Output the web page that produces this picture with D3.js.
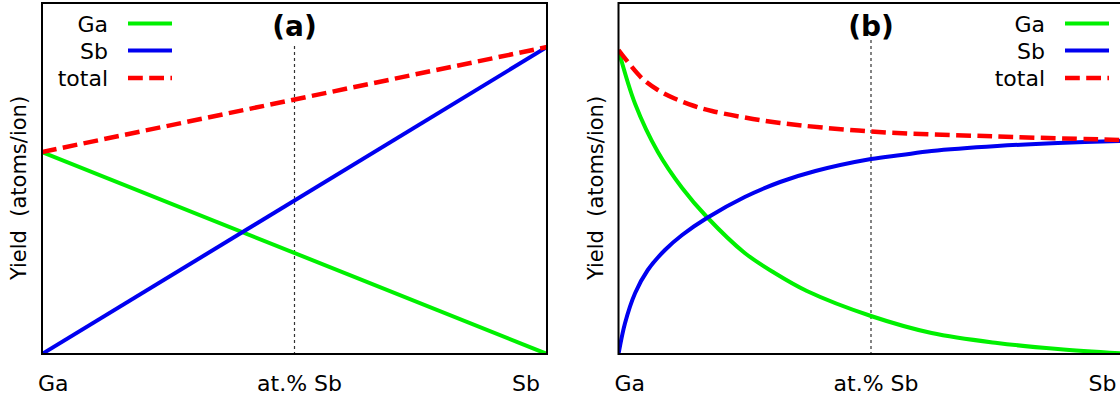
<!DOCTYPE html>
<html>
<head>
<meta charset="utf-8">
<script src="https://cdn.jsdelivr.net/npm/d3@7"></script>
<style>
  body { margin: 0; background: #fff; }
  text { font-family: "DejaVu Sans", sans-serif; fill: #000; }
</style>
</head>
<body>
<script>
// ---- data (yield in arbitrary units, composition in at.% Sb) ----
var seriesNames = ["Ga", "Sb", "total"];
var colors = ["#00f000", "#0000f0", "#ff0000"];

// panel (a): linear
var aComp = [0, 100];
var aGa = [2.02, 0];
var aSb = [0, 3.07];
var aTotal = [2.02, 3.07];

// panel (b): curved
var bGaComp = [0, 3.3, 7.8, 12.6, 17.5, 25, 30.6, 37.3, 50, 62, 75, 87, 100];
var bGa = [3.04, 2.50, 2.02, 1.66, 1.37, 1.01, 0.82, 0.63, 0.38, 0.21, 0.11, 0.05, 0.005];
var bSbComp = [0, 1.3, 3.3, 5.8, 9.2, 12.6, 17.5, 25, 32, 39, 50, 56, 62, 75, 87, 100];
var bSb = [0, 0.31, 0.61, 0.84, 1.04, 1.19, 1.36, 1.57, 1.72, 1.83, 1.95, 1.99, 2.03, 2.08, 2.11, 2.13];
var bTotComp = [0, 4.6, 7.8, 11.1, 15, 18.5, 24.4, 32, 50, 75, 100];
var bTotal = [3.04, 2.76, 2.64, 2.555, 2.48, 2.43, 2.37, 2.31, 2.225, 2.175, 2.14];

var xTickLabels = ["Ga", "at.% Sb", "Sb"];

(function () {

var width = 1120, height = 400;
var plotW = 505, plotTop = 3, plotBottom = 354;

var svg = d3.select("body").append("svg")
  .attr("width", width)
  .attr("height", height)

var y = d3.scaleLinear().domain([0, 3.51]).range([plotBottom, plotTop])

function zip(xs, ys) {
  return xs.map(function(d, i) { return [d, ys[i]] })
}

function drawPanel(left, title, series, id, legendX) {
  var x = d3.scaleLinear().domain([0, 100]).range([left, left + plotW])
  var g = svg.append("g")

  g.append("clipPath").attr("id", "clip" + id)
    .append("rect")
    .attr("x", left).attr("y", plotTop)
    .attr("width", plotW).attr("height", plotBottom - plotTop)

  // dotted middle line
  g.append("line")
    .attr("x1", x(50)).attr("x2", x(50))
    .attr("y1", id == "a" ? 46 : 40).attr("y2", plotBottom)
    .attr("stroke", "#333")
    .attr("stroke-width", 1.2)
    .attr("stroke-dasharray", "3,3")

  var line = d3.line()
    .x(function(d) { return x(d[0]) })
    .y(function(d) { return y(d[1]) })
    .curve(d3.curveCatmullRom.alpha(0.5))

  series.forEach(function(s, i) {
    g.append("path")
      .attr("d", line(s))
      .attr("fill", "none")
      .attr("stroke", colors[i])
      .attr("stroke-width", i == 2 ? 4.5 : 4)
      .attr("stroke-dasharray", i == 2 ? "14.8,6.4" : null)
      .attr("clip-path", "url(#clip" + id + ")")
  })

  // frame
  g.append("rect")
    .attr("x", left).attr("y", plotTop)
    .attr("width", plotW).attr("height", plotBottom - plotTop)
    .attr("fill", "none")
    .attr("stroke", "#000")
    .attr("stroke-width", 2)

  g.append("text")
    .text(title)
    .attr("x", x(50))
    .attr("y", 36)
    .attr("text-anchor", "middle")
    .style("font-weight", "bold")
    .style("font-size", "28px")

  // x labels
  g.append("text").text(xTickLabels[0])
    .attr("x", x(0) - 4).attr("y", 391)
    .attr("text-anchor", "start").style("font-size", "22px")
  g.append("text").text(xTickLabels[1])
    .attr("x", x(50) + 5).attr("y", 391)
    .attr("text-anchor", "middle").style("font-size", "22px")
  g.append("text").text(xTickLabels[2])
    .attr("x", x(100) - 7).attr("y", 391)
    .attr("text-anchor", "end").style("font-size", "22px")

  // y label
  g.append("text")
    .attr("transform", "translate(" + (left - 16) + " 188) rotate(-90)")
    .attr("text-anchor", "middle")
    .attr("xml:space", "preserve")
    .style("white-space", "pre")
    .style("font-size", "21px")
    .text("Yield  (atoms/ion)")

  // legend
  var ly = [23.5, 50.5, 78]
  seriesNames.forEach(function(n, i) {
    g.append("text").text(n)
      .attr("x", legendX).attr("y", ly[i] + 8)
      .attr("text-anchor", "end")
      .style("font-size", "22px")
    g.append("line")
      .attr("x1", legendX + 20).attr("x2", legendX + 64)
      .attr("y1", ly[i]).attr("y2", ly[i])
      .attr("stroke", colors[i])
      .attr("stroke-width", i == 2 ? 4.5 : 4)
      .attr("stroke-dasharray", i == 2 ? "14.8,6.4" : null)
  })
}

drawPanel(42, "(a)", [zip(aComp, aGa), zip(aComp, aSb), zip(aComp, aTotal)], "a", 108)
drawPanel(618.5, "(b)", [zip(bGaComp, bGa), zip(bSbComp, bSb), zip(bTotComp, bTotal)], "b", 1045)

}())
</script>
</body>
</html>
